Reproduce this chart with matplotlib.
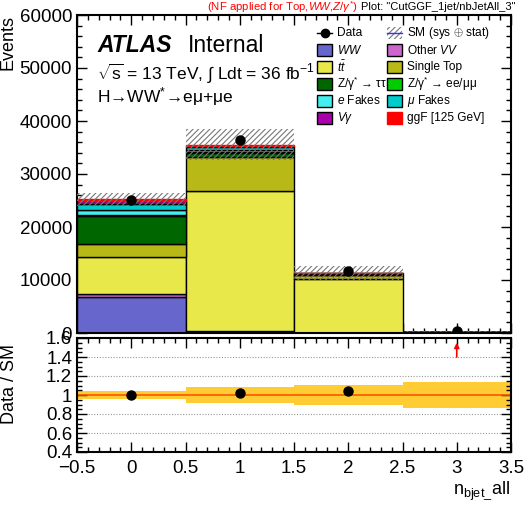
import numpy as np
import matplotlib
matplotlib.use("Agg")
import matplotlib.pyplot as plt
from matplotlib.patches import Rectangle
from matplotlib.lines import Line2D
from matplotlib.ticker import MultipleLocator

plt.rcParams['font.family'] = ['Liberation Sans', 'DejaVu Sans']
plt.rcParams['mathtext.fontset'] = 'custom'
plt.rcParams['mathtext.rm'] = 'Liberation Sans'
plt.rcParams['mathtext.it'] = 'Liberation Sans:italic'
plt.rcParams['mathtext.bf'] = 'Liberation Sans:bold'
plt.rcParams['hatch.linewidth'] = 0.8

# ---------------- data ----------------
bins = [0, 1, 2, 3]
ww        = [6700, 400, 30, 5]
other_vv  = [620, 50, 10, 2]
ttbar     = [7070, 26350, 10100, 200]
single_top= [2400, 6500, 750, 30]
z_tautau  = [5360, 700, 130, 5]
z_eemumu  = [150, 100, 30, 2]
e_fakes   = [1000, 500, 100, 5]
mu_fakes  = [1050, 550, 120, 5]
v_gamma   = [550, 200, 40, 2]
ggf       = [300, 150, 20, 2]
data      = [25100, 36340, 11750, 450]
rel_unc   = [0.047, 0.082, 0.11, 0.135]

components = [
    ("WW", ww, "#6666CC"),
    ("Other VV", other_vv, "#CC66CC"),
    ("ttbar", ttbar, "#E8E84A"),
    ("Single Top", single_top, "#B8B817"),
    ("Ztautau", z_tautau, "#006600"),
    ("Zeemumu", z_eemumu, "#00CC00"),
    ("e Fakes", e_fakes, "#44EEEE"),
    ("mu Fakes", mu_fakes, "#00CCCC"),
    ("Vgamma", v_gamma, "#AA00AA"),
]

x = np.array(bins, dtype=float)
W, H = 524, 512
fig = plt.figure(figsize=(W/100, H/100), dpi=100)

def fx(px): return px / W
def fy(py): return 1 - py / H

ax = fig.add_axes([fx(77), fy(333), fx(511) - fx(77), fy(15) - fy(333)])
rax = fig.add_axes([fx(77), fy(452), fx(511) - fx(77), fy(338) - fy(452)])

bottom = np.zeros(len(x))
for name, vals, col in components:
    v = np.array(vals, dtype=float)
    ax.bar(x, v, width=1.0, bottom=bottom, color=col, edgecolor='black', linewidth=1.0, zorder=2)
    bottom += v
gv = np.array(ggf, dtype=float)
ax.bar(x, gv, width=1.0, bottom=bottom, color='#FF0000', edgecolor='#FF0000', linewidth=1.0, zorder=2)
total = bottom + gv

err = total * np.array(rel_unc)
ax.bar(x, 2 * err, width=1.0, bottom=total - err, fill=False, hatch='//////',
       edgecolor='#777777', linewidth=0, zorder=3)

d = np.array(data, dtype=float)
ax.errorbar(x, d, yerr=np.sqrt(d), fmt='o', color='black', markersize=6.5, zorder=5, linewidth=1)

ax.set_xlim(-0.5, 3.5)
ax.set_ylim(0, 60000)
ax.yaxis.set_major_locator(MultipleLocator(10000))
ax.yaxis.set_minor_locator(MultipleLocator(2000))
ax.xaxis.set_major_locator(MultipleLocator(0.5))
ax.xaxis.set_minor_locator(MultipleLocator(0.1))
ax.tick_params(axis='x', labelbottom=False)

for a in (ax, rax):
    a.tick_params(which='both', direction='in', top=True, right=True, labelsize=13.5, width=1)
    a.tick_params(which='major', length=7)
    a.tick_params(which='minor', length=3.5)
    for s in a.spines.values():
        s.set_linewidth(1.5)
rax.tick_params(axis='x', pad=6)

ax.set_ylabel("Events", fontsize=13, loc='top', labelpad=2)

# ratio
ratio = d / total
ru = np.array(rel_unc)
rax.bar(x, 2 * ru, width=1.0, bottom=1 - ru, color='#FFCC33', linewidth=0, zorder=1)
rax.axhline(1.0, color='#FF5500', linewidth=1.2, zorder=2)
for gy in [0.6, 0.8, 1.2, 1.4]:
    rax.axhline(gy, color='#999999', linestyle=(0, (1, 1.5)), linewidth=0.8, zorder=1.5)
rmin, rmax = 0.4, 1.6
inr = (ratio >= rmin) & (ratio <= rmax)
rax.errorbar(x[inr], ratio[inr], yerr=(np.sqrt(d) / total)[inr], fmt='o', color='black',
             markersize=6.5, zorder=5, linewidth=1)
for xi, r in zip(x[~inr], ratio[~inr]):
    if r > rmax:
        rax.annotate("", xy=(xi, rmax - 0.02), xytext=(xi, 1.37),
                     arrowprops=dict(arrowstyle='-|>', color='red', lw=1.2, mutation_scale=7), zorder=6)
rax.set_xlim(-0.5, 3.5)
rax.set_ylim(rmin, rmax)
rax.yaxis.set_major_locator(MultipleLocator(0.2))
rax.yaxis.set_minor_locator(MultipleLocator(0.05))
rax.xaxis.set_major_locator(MultipleLocator(0.5))
rax.xaxis.set_minor_locator(MultipleLocator(0.1))
rax.set_yticks([0.4, 0.6, 0.8, 1.0, 1.2, 1.4, 1.6])
rax.set_yticklabels(["0.4", "0.6", "0.8", "1", "1.2", "1.4", "1.6"])
rax.set_xticks([-0.5, 0, 0.5, 1, 1.5, 2, 2.5, 3, 3.5])
rax.set_xticklabels(["\u22120.5", "0", "0.5", "1", "1.5", "2", "2.5", "3", "3.5"])
rax.set_ylabel("Data / SM", fontsize=13)
rax.yaxis.set_label_coords(-0.135, 0.6)

fig.text(fx(510), fy(491), r"n$_{\mathrm{bjet\_}}$all", fontsize=13, ha='right', va='center')

# header texts
fig.text(fx(358), fy(7), r"(NF applied for Top,$WW$,$Z/\gamma^{*}$)", color='red', fontsize=8.2,
         ha='right', va='center')
fig.text(fx(361), fy(7), 'Plot: "CutGGF_1jet/nbJetAll_3"', color='black', fontsize=8.0,
         ha='left', va='center')

# ATLAS label
fig.text(fx(97), fy(46), "ATLAS", fontsize=16.5, fontweight='bold', fontstyle='italic', va='center')
fig.text(fx(188), fy(46), "Internal", fontsize=16.5, va='center')
fig.text(fx(97), fy(74), r"$\sqrt{\mathrm{s}}$ = 13 TeV, $\int$ Ldt = 36 fb$^{\mathregular{-1}}$", fontsize=12.5, va='center')
fig.text(fx(97), fy(97), r"H→WW$^{*}$→eμ+μe", fontsize=12.5, va='center')

# legend (manual)
rows = [33, 50, 67, 84, 101, 118]
col1 = [
    ("data", "Data", None),
    ("box", r"$WW$", "#6666CC"),
    ("box", r"$t\bar{t}$", "#E8E84A"),
    ("box", r"Z/γ$^{*}$ → ττ", "#006600"),
    ("box", r"$e$ Fakes", "#44EEEE"),
    ("box", r"$V\gamma$", "#AA00AA"),
]
col2 = [
    ("hatch", r"SM (sys $\oplus$ stat)", None),
    ("box", r"Other $VV$", "#CC66CC"),
    ("box", "Single Top", "#B8B817"),
    ("box", r"Z/γ$^{*}$ → ee/μμ", "#00CC00"),
    ("box", r"$\mu$ Fakes", "#00CCCC"),
    ("sig", "ggF [125 GeV]", "#FF0000"),
]
for colx, entries in [(317, col1), (387, col2)]:
    for py, (kind, label, c) in zip(rows, entries):
        fig.text(fx(colx + 20), fy(py), label, fontsize=8.6, va='center', ha='left', zorder=10)
    for py, (kind, label, c) in zip(rows, entries):
        x0, y0 = fx(colx), fy(py + 6)
        w, h = fx(colx + 15) - fx(colx), fy(py - 6) - fy(py + 6)
        if kind == "box":
            fig.patches.append(Rectangle((x0, y0), w, h, transform=fig.transFigure,
                                         facecolor=c, edgecolor='black', linewidth=1, zorder=11))
        elif kind == "sig":
            fig.patches.append(Rectangle((x0, y0), w, h, transform=fig.transFigure,
                                         facecolor=c, edgecolor=c, linewidth=1, zorder=11))
        elif kind == "hatch":
            fig.patches.append(Rectangle((x0, y0), w, h, transform=fig.transFigure, fill=False,
                                         hatch='//////', edgecolor='#777777', linewidth=0, zorder=11))
            fig.lines.append(Line2D([x0, x0 + w], [fy(py), fy(py)], transform=fig.transFigure,
                                    color='#3333FF', linewidth=1, zorder=12))
        elif kind == "data":
            fig.lines.append(Line2D([x0, x0 + w], [fy(py), fy(py)], transform=fig.transFigure,
                                    color='black', linewidth=1, zorder=12))
            fig.lines.append(Line2D([x0 + w / 2], [fy(py)], transform=fig.transFigure, marker='o',
                                    color='black', markersize=6, zorder=12))

fig.savefig("out.png", dpi=100)
